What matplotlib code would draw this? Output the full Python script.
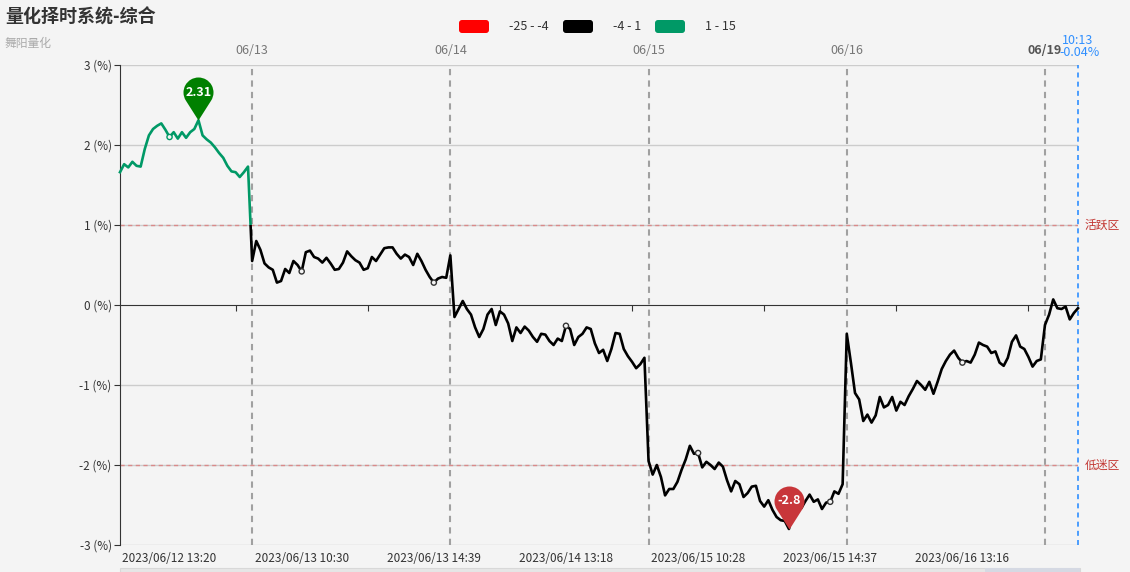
import numpy as np
import matplotlib.pyplot as plt
from matplotlib.patches import Rectangle, FancyBboxPatch
from matplotlib.path import Path
from matplotlib.transforms import IdentityTransform

plt.rcParams['font.family'] = ['Noto Sans CJK SC', 'DejaVu Sans']

title = '量化择时系统-综合'
subtitle = '舞阳量化'

# one list per trading day (values in %)
day_names = ['06/12', '06/13', '06/14', '06/15', '06/16', '06/19']
d0612 = [1.66, 1.76, 1.72, 1.79, 1.74, 1.73, 1.95, 2.12, 2.20, 2.24, 2.27, 2.19,
         2.10, 2.16, 2.08, 2.16, 2.09, 2.16, 2.20, 2.31, 2.12, 2.07, 2.03, 1.97,
         1.90, 1.84, 1.74, 1.67, 1.66, 1.60, 1.66, 1.73]
d0613 = [0.55, 0.80, 0.69, 0.52, 0.47, 0.44, 0.28, 0.30, 0.45, 0.40, 0.55, 0.50,
         0.42, 0.66, 0.68, 0.60, 0.58, 0.53, 0.59, 0.52, 0.44, 0.45, 0.53, 0.67,
         0.61, 0.56, 0.53, 0.44, 0.46, 0.60, 0.55, 0.63, 0.71, 0.72, 0.72, 0.64,
         0.58, 0.63, 0.60, 0.50, 0.64, 0.55, 0.44, 0.35, 0.28, 0.33, 0.35, 0.34]
d0614 = [0.62, -0.15, -0.05, 0.05, -0.05, -0.12, -0.28, -0.40, -0.30, -0.12, -0.05, -0.25,
         -0.08, -0.12, -0.23, -0.45, -0.28, -0.35, -0.27, -0.32, -0.40, -0.46, -0.36, -0.37,
         -0.45, -0.50, -0.42, -0.45, -0.26, -0.30, -0.50, -0.40, -0.36, -0.28, -0.30, -0.48,
         -0.60, -0.56, -0.70, -0.55, -0.35, -0.36, -0.55, -0.64, -0.71, -0.79, -0.74, -0.66]
d0615 = [-1.95, -2.12, -2.00, -2.15, -2.38, -2.30, -2.30, -2.21, -2.06, -1.93, -1.76, -1.86,
         -1.85, -2.03, -1.96, -2.00, -2.05, -1.97, -2.02, -2.19, -2.33, -2.20, -2.24, -2.40,
         -2.35, -2.27, -2.26, -2.45, -2.52, -2.44, -2.56, -2.65, -2.69, -2.70, -2.80, -2.58,
         -2.48, -2.54, -2.45, -2.37, -2.46, -2.43, -2.55, -2.47, -2.46, -2.33, -2.36, -2.24]
d0616 = [-0.36, -0.72, -1.10, -1.18, -1.45, -1.37, -1.47, -1.38, -1.15, -1.28, -1.25, -1.15,
         -1.32, -1.21, -1.25, -1.14, -1.05, -0.95, -1.00, -1.06, -0.96, -1.11, -0.96, -0.80,
         -0.70, -0.62, -0.57, -0.66, -0.72, -0.70, -0.72, -0.62, -0.47, -0.50, -0.52, -0.60,
         -0.58, -0.72, -0.76, -0.66, -0.46, -0.38, -0.52, -0.55, -0.65, -0.77, -0.70, -0.68]
d0619 = [-0.25, -0.12, 0.07, -0.04, -0.05, -0.02, -0.18, -0.10, -0.04]
last_time = '10:13'

time_labels = ['2023/06/12 13:20', '2023/06/13 10:30', '2023/06/13 14:39', '2023/06/14 13:18',
               '2023/06/15 10:28', '2023/06/15 14:37', '2023/06/16 13:16']

pieces_lo = [-25, -4, 1]
pieces_hi = [-4, 1, 15]
piece_colors = ['#ff0000', '#000000', '#009966']

zone_levels = [1, -2]
zone_names = ['活跃区', '低迷区']

days = [d0612, d0613, d0614, d0615, d0616, d0619]
values = np.concatenate(days)
x = np.arange(len(values))
day_starts = np.cumsum([0] + [len(d) for d in days])[:-1]
label_pos = 12 + 32 * np.arange(len(time_labels))
tick_pos = label_pos + 16

W, H = 1130, 572
fig = plt.figure(figsize=(W / 100, H / 100), dpi=100, facecolor='#f4f4f4')
ax = fig.add_axes([120 / W, 27 / H, 958 / W, 480 / H], facecolor='#f4f4f4')
ax.set_xlim(0, len(values) - 1)
ax.set_ylim(-3, 3)

for v in range(-3, 4):
    if v != 0:
        ax.axhline(v, color='#cccccc', lw=1, zorder=0)

for k, s in enumerate(day_starts[1:], start=1):
    last = k == len(day_starts) - 1
    ax.axvline(s, color='#a0a0a0', ls=(0, (3, 2.5)), lw=1.5, zorder=1)
    ax.annotate(day_names[k], xy=(s, 3), xytext=(0, 6),
                textcoords='offset points', ha='center', va='bottom', fontsize=9,
                color='#555555' if last else '#777777',
                fontweight='bold' if last else 'normal')

ax.axvline(x[-1], color='#2f8fff', ls=(0, (3, 2.5)), lw=1.2, zorder=1, clip_on=False)
ax.annotate(f'{values[-1]:.2f}%', xy=(x[-1], 3), xytext=(1, 4), textcoords='offset points',
            ha='center', va='bottom', fontsize=9, color='#2f8fff')
ax.annotate(last_time, xy=(x[-1], 3), xytext=(0, 13), textcoords='offset points',
            ha='center', va='bottom', fontsize=9, color='#2f8fff')

for z, name in zip(zone_levels, zone_names):
    ax.axhline(z, color='#d98a8a', ls=(0, (3, 2.5)), lw=1, zorder=1)
    ax.annotate(name, xy=(1, z), xycoords=ax.get_yaxis_transform(), xytext=(5, 0),
                textcoords='offset points', va='center', fontsize=8.5, color='#c23531')

# line coloured by value range (visualMap pieces)
for lo, hi, c in zip(pieces_lo, pieces_hi, piece_colors):
    ln, = ax.plot(x, values, color=c, lw=1.9, zorder=3, solid_joinstyle='round')
    ln.set_clip_path(Rectangle((-5, lo), len(values) + 10, hi - lo, transform=ax.transData))

sym_colors = [piece_colors[2] if values[i] > 1 else '#333333' for i in label_pos]
ax.scatter(label_pos, values[label_pos], s=14, facecolor='#f4f4f4', edgecolor=sym_colors,
           linewidth=1, zorder=4)

# pins for max / min
r, d = 15, 28
th = np.degrees(np.arccos(r / d))
arc = Path.arc(-90 + th, 270 - th)
verts = np.vstack([arc.vertices * r + [0, d], [[0, 0], [0, 0]]])
codes = np.concatenate([arc.codes, [Path.LINETO, Path.CLOSEPOLY]])
pin = Path(verts, codes)
ms = 2 * (r + d) * 0.72
for idx, col in [(int(np.argmax(values)), '#008000'), (int(np.argmin(values)), '#c8363a')]:
    ax.plot(idx, values[idx], marker=pin, ms=ms, color=col, mec='none', zorder=5, clip_on=False)
    ax.annotate(f'{values[idx]:g}', xy=(idx, values[idx]), xytext=(0, d * 0.72),
                textcoords='offset points', ha='center', va='center', fontsize=9,
                fontweight='bold', color='white', zorder=6)

for sp in ['top', 'right']:
    ax.spines[sp].set_visible(False)
ax.spines['left'].set_color('#333333')
ax.spines['bottom'].set_position(('data', 0))
ax.spines['bottom'].set_color('#333333')
ax.set_xticks(tick_pos)
ax.set_xticklabels([''] * len(tick_pos))
ax.tick_params(axis='x', direction='out', length=4, color='#333333')
ax.set_yticks(range(-3, 4))
ax.set_yticklabels([f'{v} (%)' for v in range(-3, 4)])
ax.tick_params(axis='y', direction='out', length=4, color='#333333', labelsize=8.5,
               labelcolor='#333333', pad=2)

for p, lab in zip(label_pos, time_labels):
    ax.annotate(lab, xy=(p, -3), xytext=(0, -5), textcoords='offset points',
                ha='center', va='top', fontsize=8.5, color='#333333')

# legend of value pieces
idt = IdentityTransform()
leg_x = [459, 563, 655]
for lx, lo, hi, c in zip(leg_x, pieces_lo, pieces_hi, piece_colors):
    fig.add_artist(FancyBboxPatch((lx, H - 33), 30, 13, boxstyle='round,pad=0,rounding_size=3',
                                  transform=idt, facecolor=c, edgecolor='none'))
    fig.text(lx + 50, H - 26, f'{lo} - {hi}', transform=idt, va='center', ha='left',
             fontsize=9, color='#333333')

# dataZoom slider edge at the bottom
fig.add_artist(Rectangle((120, 0), 960, 4, transform=idt, facecolor='#e6e6e6', edgecolor='#d8d8d8', lw=0.8))
fig.add_artist(Rectangle((985, 0), 95, 4, transform=idt, facecolor='#d5d9e3', edgecolor='none'))

fig.text(5 / W, 1 - 17 / H, title, fontsize=13, fontweight='bold', color='#333333', va='center')
fig.text(5 / W, 1 - 43 / H, subtitle, fontsize=8.5, color='#aaaaaa', va='center')

fig.savefig('out.png', dpi=100, facecolor=fig.get_facecolor())
